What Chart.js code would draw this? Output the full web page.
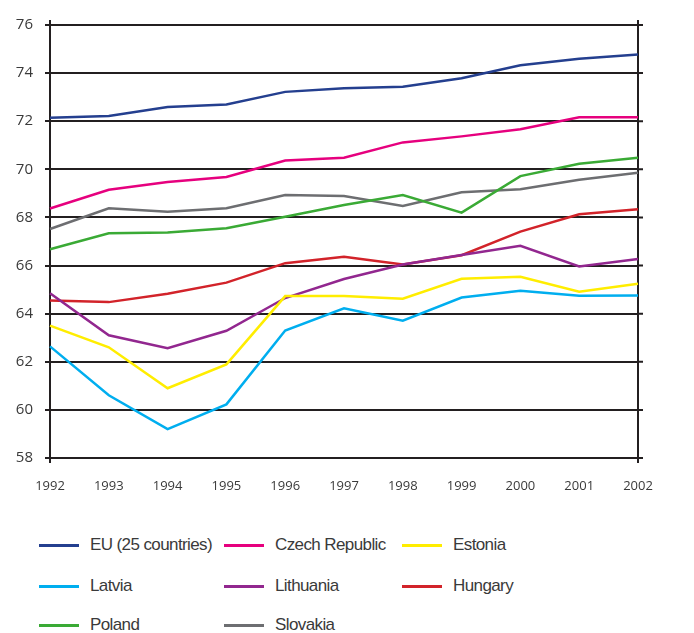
<!DOCTYPE html>
<html>
<head>
<meta charset="utf-8">
<script src="https://cdn.jsdelivr.net/npm/chart.js@4"></script>
<style>
  body { margin: 0; background: #fff; }
  #wrap { position: relative; width: 694px; height: 633px; }
  #box { position: absolute; left: 0; top: 0; width: 694px; height: 510px; }
  .leg { position: absolute; font-family: "Liberation Sans", Arial, sans-serif; font-size: 17px; letter-spacing: -0.6px; color: #3a3a3a; line-height: 22px; white-space: nowrap; }
  .leg span.sw { position: absolute; height: 3px; width: 40px; }
</style>
</head>
<body>
<div id="wrap">
  <div id="box"><canvas id="myChart"></canvas></div>
  <div id="legend"></div>
</div>
<script>
// data
const years = ["1992", "1993", "1994", "1995", "1996", "1997", "1998", "1999", "2000", "2001", "2002"];
const yTicks = [58, 60, 62, 64, 66, 68, 70, 72, 74, 76];

const eu25      = [72.14, 72.22, 72.59, 72.70, 73.22, 73.37, 73.43, 73.79, 74.33, 74.60, 74.77];
const czech     = [68.37, 69.15, 69.47, 69.68, 70.37, 70.48, 71.12, 71.37, 71.67, 72.16, 72.16];
const estonia   = [63.50, 62.60, 60.90, 61.89, 64.73, 64.73, 64.62, 65.45, 65.53, 64.91, 65.24];
const latvia    = [62.64, 60.61, 59.20, 60.23, 63.30, 64.22, 63.71, 64.67, 64.95, 64.74, 64.76];
const lithuania = [64.85, 63.10, 62.56, 63.29, 64.65, 65.44, 66.04, 66.44, 66.82, 65.96, 66.27];
const hungary   = [64.55, 64.48, 64.83, 65.29, 66.10, 66.37, 66.04, 66.43, 67.41, 68.13, 68.34];
const poland    = [66.68, 67.34, 67.37, 67.55, 68.03, 68.52, 68.93, 68.20, 69.72, 70.23, 70.48];
const slovakia  = [67.52, 68.38, 68.24, 68.38, 68.93, 68.89, 68.48, 69.05, 69.17, 69.57, 69.86];

const axisColor = "#231f20";

function series(label, values, color) {
  return {
    label: label,
    data: values,
    borderColor: color,
    backgroundColor: color,
    borderWidth: 2.5,
    pointRadius: 0,
    tension: 0,
    fill: false,
  };
}

const data = {
  labels: years,
  datasets: [
    series("EU (25 countries)", eu25, "#243f8f"),
    series("Czech Republic", czech, "#e6007e"),
    series("Estonia", estonia, "#ffed00"),
    series("Latvia", latvia, "#00aeef"),
    series("Lithuania", lithuania, "#92278f"),
    series("Hungary", hungary, "#d2232a"),
    series("Poland", poland, "#3aaa35"),
    series("Slovakia", slovakia, "#6d6e71"),
  ],
};

// vertical axis lines on both sides plus the small stubs on the right
const frame = {
  id: "frame",
  beforeDatasetsDraw(chart) {
    const ctx = chart.ctx;
    const a = chart.chartArea;
    const y = chart.scales.y;
    ctx.save();
    ctx.strokeStyle = axisColor;
    ctx.lineWidth = 2;
    ctx.beginPath();
    ctx.moveTo(a.left, a.top - 5);
    ctx.lineTo(a.left, a.bottom + 5);
    ctx.moveTo(a.right, a.top - 5);
    ctx.lineTo(a.right, a.bottom + 5);
    yTicks.forEach(function (v) {
      const py = y.getPixelForValue(v);
      ctx.moveTo(a.right, py);
      ctx.lineTo(a.right + 5, py);
    });
    ctx.stroke();
    ctx.restore();
  },
};

const config = {
  type: "line",
  data: data,
  options: {
    responsive: true,
    maintainAspectRatio: false,
    animation: false,
    layout: { padding: { top: 25, right: 56, left: 0, bottom: 0 } },
    plugins: {
      legend: { display: false },
      tooltip: { enabled: false },
    },
    scales: {
      x: {
        offset: false,
        grid: { display: false, drawTicks: false },
        border: { display: false },
        ticks: {
          padding: 20,
          color: "#3a3a3a",
          font: { family: "Open Sans", size: 13 },
          maxRotation: 0,
        },
        afterFit(scale) { scale.height = 52; },
      },
      y: {
        min: 58,
        max: 76,
        grid: { color: axisColor, lineWidth: 2, tickLength: 5, drawTicks: true },
        border: { display: false },
        ticks: {
          stepSize: 2,
          padding: 12,
          color: "#3a3a3a",
          font: { family: "Open Sans", size: 15 },
        },
        afterFit(scale) { scale.width = 50; },
      },
    },
  },
  plugins: [frame],
};

const myChart = new Chart(document.getElementById("myChart"), config);

// legend in three fixed columns
const legCols = [39, 224, 402];
const legRows = [545, 586, 625];
const legend = document.getElementById("legend");
data.datasets.forEach(function (ds, i) {
  const x = legCols[i % 3];
  const y = legRows[Math.floor(i / 3)];
  const item = document.createElement("div");
  item.className = "leg";
  item.style.left = x + "px";
  item.style.top = (y - 11) + "px";
  item.style.paddingLeft = "51px";
  const sw = document.createElement("span");
  sw.className = "sw";
  sw.style.left = "0px";
  sw.style.top = "10px";
  sw.style.background = ds.borderColor;
  item.appendChild(sw);
  item.appendChild(document.createTextNode(ds.label));
  legend.appendChild(item);
});
</script>
</body>
</html>
